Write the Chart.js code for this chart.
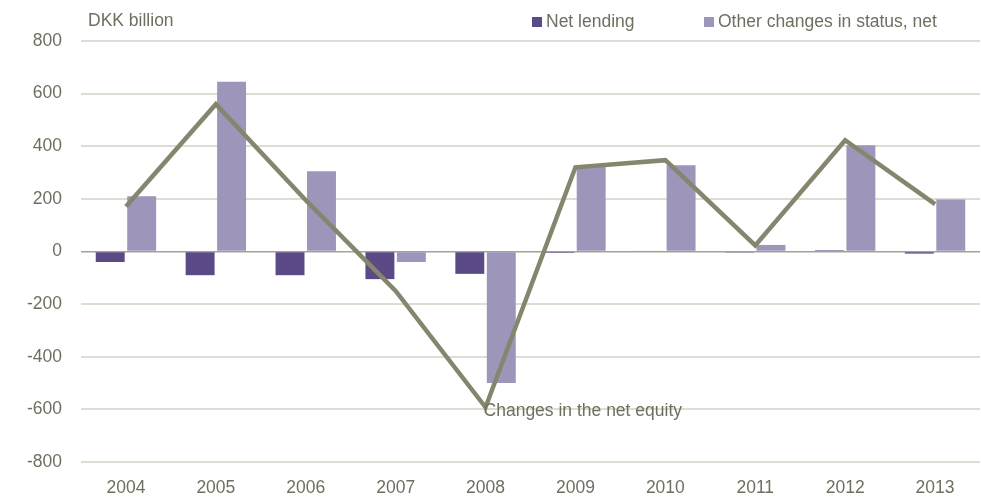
<!DOCTYPE html>
<html>
<head>
<meta charset="utf-8">
<script src="https://cdn.jsdelivr.net/npm/chart.js@4/dist/chart.umd.min.js"></script>
<style>
  html, body { margin: 0; padding: 0; background: #fff; }
  canvas { display: block; }
</style>
</head>
<body>
<canvas id="chart" width="981" height="500"></canvas>
<script>
'use strict';

var years = ['2004', '2005', '2006', '2007', '2008', '2009', '2010', '2011', '2012', '2013'];
var netLending = [-40, -90, -90, -105, -85, -5, 3, -4, 5, -8];
var otherChanges = [210, 645, 305, -40, -500, 324, 328, 25, 404, 198];
var netEquity = [171, 560, 195, -150, -592, 320, 347, 23, 423, 180];
var yTicks = [-800, -600, -400, -200, 0, 200, 400, 600, 800];

var textColor = '#6f6f60';
var font = { family: '"Liberation Sans", Arial, sans-serif', size: 17.5 };

// draws unit label, legend and the line's inline label
var extrasPlugin = {
    id: 'extras',
    afterDraw: function (chart) {
        var ctx = chart.ctx;
        ctx.save();
        ctx.font = font.size + 'px ' + font.family;
        ctx.fillStyle = textColor;
        ctx.textBaseline = 'middle';
        ctx.textAlign = 'left';
        ctx.fillText('DKK billion', 88, 21);

        var items = [
            { ds: chart.data.datasets[0], x: 532 },
            { ds: chart.data.datasets[1], x: 704 }
        ];
        items.forEach(function (it) {
            ctx.fillStyle = it.ds.backgroundColor;
            ctx.fillRect(it.x, 17, 10, 10);
            ctx.fillStyle = textColor;
            ctx.fillText(it.ds.label, it.x + 14, 22);
        });

        var lineDs = chart.data.datasets[2];
        var xs = chart.scales.x, ys = chart.scales.y;
        ctx.fillText(lineDs.label, xs.getPixelForValue(4) - 2, ys.getPixelForValue(lineDs.data[4]) + 4);
        ctx.restore();
    }
};

new Chart(document.getElementById('chart'), {
    type: 'bar',
    data: {
        labels: years,
        datasets: [
            {
                label: 'Net lending',
                data: netLending,
                backgroundColor: '#5b4a86',
                order: 1,
                barPercentage: 0.92,
                categoryPercentage: 0.7
            },
            {
                label: 'Other changes in status, net',
                data: otherChanges,
                backgroundColor: '#9d95ba',
                order: 1,
                barPercentage: 0.92,
                categoryPercentage: 0.7
            },
            {
                type: 'line',
                label: 'Changes in the net equity',
                data: netEquity,
                borderColor: '#86866f',
                borderWidth: 4.5,
                pointRadius: 0,
                tension: 0,
                fill: false,
                order: 0
            }
        ]
    },
    options: {
        responsive: false,
        devicePixelRatio: 1,
        animation: false,
        layout: { padding: { top: 41, right: 1, bottom: 0, left: 0 } },
        plugins: {
            legend: { display: false },
            tooltip: { enabled: false }
        },
        scales: {
            x: {
                grid: { display: false, drawTicks: false },
                border: { display: false },
                ticks: { color: textColor, font: font, padding: 16, maxRotation: 0 },
                afterFit: function (scale) { scale.height = 38; }
            },
            y: {
                min: -800,
                max: 800,
                afterBuildTicks: function (scale) {
                    scale.ticks = yTicks.map(function (v) { return { value: v }; });
                },
                grid: {
                    drawTicks: false,
                    lineWidth: function (c) { return c.tick && c.tick.value === 0 ? 1.5 : 2; },
                    color: function (c) { return c.tick && c.tick.value === 0 ? '#a3a393' : '#dfddd3'; }
                },
                border: { display: false },
                ticks: { color: textColor, font: font, padding: 19 },
                afterFit: function (scale) { scale.width = 81; }
            }
        }
    },
    plugins: [extrasPlugin]
});
</script>
</body>
</html>
